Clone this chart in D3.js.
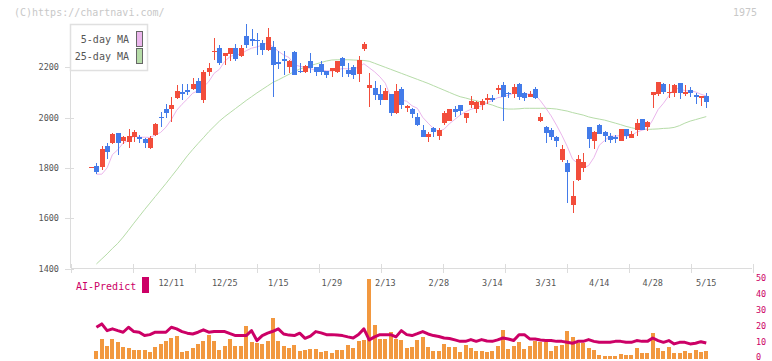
<!DOCTYPE html>
<html>
<head>
<meta charset="utf-8">
<script src="https://cdn.jsdelivr.net/npm/d3@7"></script>
<style>
body { margin: 0; background: #fff; }
svg { display: block; font-family: "DejaVu Sans Mono", "Liberation Mono", monospace; }
</style>
</head>
<body>
<svg width="772" height="361"></svg>
<script>
// daily prices, oldest first
var openPrice = [1803,1807,1805,1887,1898,1940,1905,1904,1924,1922,
  1914,1879,1932,2004,2034,2034,2079,2102,2110,2114,
  2147,2070,2181,2262,2277,2246,2253,2277,2244,2323,
  2313,2310,2297,2270,2281,2220,2233,2200,2261,2186,
  2180,2226,2201,2214,2184,2186,2180,2236,2189,2200,
  2172,2273,2119,2119,2094,2070,2094,2017,2114,2040,
  2034,2001,1951,1924,1957,1927,1980,1986,2034,2050,
  2000,2050,2034,2050,2070,2077,2110,2130,2099,2094,
  2132,2097,2083,2114,1986,1964,1951,1924,1831,1821,
  1652,1752,1798,1963,1908,1971,1944,1927,1923,1908,
  1955,1920,1951,1994,1964,2090,2095,2134,2098,2099,
  2138,2098,2110,2090,2079,2086];
var highPrice = [1805,1818,1886,1898,1940,1940,1925,1953,1951,1931,
  1918,1927,1980,2024,2054,2083,2130,2134,2134,2156,
  2156,2189,2217,2316,2290,2257,2277,2293,2290,2372,
  2351,2336,2310,2358,2303,2264,2265,2230,2264,2217,
  2210,2257,2201,2226,2184,2198,2226,2242,2219,2209,
  2246,2299,2176,2146,2130,2117,2094,2133,2123,2050,
  2039,2017,1971,1944,1964,1957,2026,2034,2047,2050,
  2017,2087,2066,2074,2094,2090,2130,2143,2103,2134,
  2136,2103,2106,2123,2017,1968,1957,1928,1891,1831,
  1748,1851,1858,1963,1948,1975,1948,1938,1931,1955,
  1955,1948,1994,1994,1986,2103,2142,2139,2134,2134,
  2138,2130,2123,2097,2086,2099];
var lowPrice = [1800,1775,1790,1835,1895,1851,1895,1878,1904,1900,
  1878,1874,1927,1964,1997,1984,2073,2070,2090,2110,
  2097,2059,2164,2230,2210,2210,2224,2226,2240,2277,
  2283,2250,2250,2264,2082,2194,2168,2177,2168,2177,
  2177,2177,2164,2171,2157,2163,2177,2163,2163,2153,
  2143,2265,2043,2070,2050,2070,2006,2014,2034,2021,
  2000,1968,1924,1902,1924,1911,1971,1986,2002,2010,
  1980,2037,2019,2030,2053,2061,2094,1986,2079,2079,
  2070,2066,2083,2074,1984,1900,1911,1884,1825,1662,
  1620,1748,1785,1880,1874,1936,1904,1900,1900,1908,
  1915,1920,1927,1951,1947,2039,2086,2095,2079,2083,
  2075,2086,2083,2054,2047,2039];
var closePrice = [1805,1785,1874,1864,1935,1900,1922,1927,1944,1916,
  1900,1919,1975,1997,2017,2050,2106,2095,2101,2134,
  2099,2182,2197,2266,2217,2257,2277,2234,2277,2287,
  2303,2303,2270,2320,2210,2217,2226,2224,2171,2180,
  2204,2197,2181,2181,2168,2197,2225,2206,2173,2169,
  2229,2291,2130,2090,2070,2106,2020,2106,2050,2045,
  2014,1971,1924,1935,1942,1951,2017,2034,2023,2026,
  2017,2066,2061,2066,2079,2070,2117,2083,2094,2123,
  2083,2077,2094,2077,2004,1940,1921,1908,1875,1785,
  1688,1835,1822,1915,1944,1936,1927,1911,1914,1955,
  1928,1935,1980,1951,1984,2103,2142,2103,2102,2130,
  2099,2101,2099,2081,2086,2063];

// moving averages as drawn on the chart
var ma5 = [null,1775,1775,1800,1853,1872,1899,1910,1926,1922,
  1922,1921,1931,1941,1962,1992,2029,2053,2074,2097,
  2107,2122,2143,2176,2192,2224,2243,2250,2252,2266,
  2276,2281,2288,2297,2281,2264,2249,2239,2210,2204,
  2201,2195,2187,2189,2186,2185,2190,2195,2194,2194,
  2200,2214,2198,2182,2162,2137,2083,2078,2070,2065,
  2047,2037,2001,1978,1957,1945,1954,1976,1993,2010,
  2023,2033,2039,2047,2058,2068,2079,2083,2089,2097,
  2100,2092,2094,2091,2067,2038,2007,1970,1930,1886,
  1835,1818,1801,1809,1841,1890,1909,1927,1926,1929,
  1927,1929,1942,1950,1956,1991,2032,2057,2087,2116,
  2115,2107,2106,2102,2093,2086];
var ma25 = [null,1418,1438,1458,1480,1500,1525,1552,1580,1607,
  1634,1660,1686,1712,1738,1765,1792,1820,1848,1873,
  1897,1920,1944,1965,1986,2004,2020,2036,2052,2068,
  2083,2098,2112,2126,2140,2150,2161,2172,2183,2193,
  2200,2207,2213,2219,2225,2229,2230,2230,2230,2229,
  2228,2227,2224,2216,2208,2200,2192,2184,2176,2168,
  2160,2152,2144,2136,2127,2118,2109,2100,2091,2083,
  2078,2072,2067,2062,2056,2050,2042,2036,2034,2034,
  2035,2037,2037,2037,2037,2037,2036,2034,2030,2026,
  2020,2015,2010,2003,1998,1994,1990,1984,1978,1972,
  1965,1960,1955,1953,1953,1954,1955,1957,1958,1961,
  1968,1978,1986,1992,1998,2004];

// lower panel
var volume = [null,4.8,12.4,8.0,12.4,10.5,7.4,6.8,5.5,5.5,
  5.5,4.2,7.4,9.3,11.1,13.0,14.3,4.2,4.8,6.8,
  9.3,11.1,14.9,11.1,5.5,8.0,12.4,8.0,8.0,20.0,
  10.5,9.9,9.3,11.1,25.0,11.1,8.0,6.8,8.6,4.8,
  5.5,6.1,6.1,4.2,4.8,3.6,5.5,5.5,8.6,6.8,
  11.1,11.8,49.6,20.6,12.4,12.4,16.8,12.4,11.8,6.8,
  7.4,11.8,13.7,7.4,4.8,4.8,9.3,7.4,7.4,4.2,
  8.6,6.8,4.8,4.8,4.2,4.8,8.0,18.1,6.1,8.0,
  10.5,6.1,8.0,11.1,10.5,10.5,4.8,8.0,8.6,17.4,
  13.7,9.9,9.9,6.8,5.5,2.3,1.8,1.8,1.8,3.0,
  2.3,2.3,6.8,3.6,3.6,16.2,6.8,4.8,7.4,3.6,
  3.6,4.8,3.6,5.5,4.2,4.8];
var aiPredict = [null,19.5,21.6,17.4,18.5,17.4,16.4,19.5,16.8,16.4,
  14.3,14.9,16.4,16.4,16.4,19.5,18.5,16.8,15.8,15.3,
  16.4,17.9,16.4,16.8,16.8,16.8,15.5,14.3,14.3,14.3,
  17.4,11.2,14.3,15.8,17.0,18.5,15.3,14.6,14.3,15.8,
  12.6,14.0,16.8,16.0,14.9,14.9,14.6,14.3,13.5,12.8,
  15.0,18.5,11.6,13.5,14.9,14.9,14.9,13.5,17.4,14.9,
  14.3,15.5,16.8,15.3,14.3,13.7,12.8,12.5,11.6,10.7,
  10.7,11.8,10.7,11.8,10.9,10.7,11.6,12.8,12.2,11.2,
  14.9,14.9,12.2,12.2,11.6,11.2,11.2,10.7,10.7,10.1,
  9.5,10.7,10.7,11.8,10.7,10.1,10.1,10.1,10.7,10.7,
  10.1,10.1,11.2,10.7,10.7,12.8,11.2,10.1,11.2,9.1,
  10.1,10.1,9.1,9.5,10.5,9.7];

var dateLabels = ['12/11','12/25','1/15','1/29','2/13','2/28','3/14','3/31','4/14','4/28','5/15'];
var dateLabelDay = [15,25,35,45,55,65,75,85,95,105,115];
var priceTicks = [1400,1600,1800,2000,2200];
var lowerTicks = [0,10,20,30,40,50];
var legendNames = ['5-day MA','25-day MA'];

var upColor = '#f24d3b';
var downColor = '#437be9';
var ma5Color = '#ebb6ec';
var ma25Color = '#b6dca8';
var aiColor = '#cc0066';

var svg = d3.select('svg');
var x = d3.scaleLinear().domain([-3.75, 123.55]).range([71, 752]);
var y = d3.scaleLinear().domain([1400, 2200]).range([268.5, 67.3]);
var yLow = d3.scaleLinear().domain([0, 50]).range([358.5, 278.4]);
var gridX = d3.scaleLinear().domain([0, 11]).range([71, 753]);
var days = d3.range(closePrice.length);

function px(i){ return Math.round(x(i)); }

window.onload = function(){
  drawHeader();
  drawAxes();
  drawMovingAverages();
  drawCandles();
  drawLegend();
  drawLowerPanel();
}

function drawHeader(){
  svg.append('text').attr('x', 14).attr('y', 16)
    .attr('font-size', 10).attr('fill', '#c8c8c8')
    .text('(C)https://chartnavi.com/');
  svg.append('text').attr('x', 757).attr('y', 16)
    .attr('text-anchor', 'end').attr('font-size', 10).attr('fill', '#c8c8c8')
    .text('1975');
}

function drawAxes(){
  var g = svg.append('g').attr('stroke', '#dcdcdc').attr('shape-rendering', 'crispEdges');
  g.append('line').attr('x1', 70.5).attr('x2', 70.5).attr('y1', 24).attr('y2', 268);
  g.append('line').attr('x1', 71).attr('x2', 752).attr('y1', 268.5).attr('y2', 268.5);
  g.selectAll('.xtick').data(d3.range(12))
    .enter().append('line')
    .attr('x1', function(d){ return Math.round(gridX(d)) + 0.5; })
    .attr('x2', function(d){ return Math.round(gridX(d)) + 0.5; })
    .attr('y1', 264).attr('y2', 273);
  g.selectAll('.ytick').data(priceTicks)
    .enter().append('line')
    .attr('x1', 65).attr('x2', 74)
    .attr('y1', function(d){ return Math.round(y(d)) + 0.5; })
    .attr('y2', function(d){ return Math.round(y(d)) + 0.5; });

  svg.selectAll('.ylabel').data(priceTicks)
    .enter().append('text')
    .attr('x', 59).attr('y', function(d){ return y(d) + 3; })
    .attr('text-anchor', 'end').attr('font-size', 8.5).attr('fill', '#555')
    .text(function(d){ return d; });

  svg.selectAll('.xlabel').data(dateLabels)
    .enter().append('text')
    .attr('x', function(d, i){ return x(dateLabelDay[i]); })
    .attr('y', 285.5)
    .attr('text-anchor', 'middle').attr('font-size', 8.5).attr('fill', '#555')
    .text(function(d){ return d; });
}

function drawMovingAverages(){
  var line = d3.line()
    .defined(function(d){ return d != null; })
    .x(function(d, i){ return x(i); })
    .y(function(d){ return y(d); });
  svg.append('path').attr('d', line(ma25))
    .attr('fill', 'none').attr('stroke', ma25Color).attr('stroke-width', 1);
  svg.append('path').attr('d', line(ma5))
    .attr('fill', 'none').attr('stroke', ma5Color).attr('stroke-width', 1);
}

function drawCandles(){
  var candle = svg.append('g').attr('shape-rendering', 'crispEdges')
    .selectAll('g').data(days)
    .enter().append('g')
    .attr('fill', function(i){ return closePrice[i] >= openPrice[i] ? upColor : downColor; })
    .attr('stroke', function(i){ return closePrice[i] >= openPrice[i] ? upColor : downColor; });
  candle.append('line')
    .attr('x1', function(i){ return px(i) + 0.5; })
    .attr('x2', function(i){ return px(i) + 0.5; })
    .attr('y1', function(i){ return y(highPrice[i]); })
    .attr('y2', function(i){ return y(lowPrice[i]); });
  candle.append('rect')
    .attr('stroke', 'none')
    .attr('x', function(i){ return px(i) - 2; })
    .attr('width', 5)
    .attr('y', function(i){ return y(Math.max(openPrice[i], closePrice[i])); })
    .attr('height', function(i){
      return Math.max(1.5, Math.abs(y(openPrice[i]) - y(closePrice[i])));
    });
}

function drawLegend(){
  var g = svg.append('g');
  g.append('rect').attr('x', 70.5).attr('y', 24.5).attr('width', 77).attr('height', 46)
    .attr('fill', '#fff').attr('stroke', '#e0e0e0').attr('stroke-width', 1.5);
  var row = g.selectAll('.item').data(legendNames)
    .enter().append('g')
    .attr('transform', function(d, i){ return 'translate(0,' + (i * 17) + ')'; });
  row.append('text').attr('x', 129).attr('y', 43)
    .attr('text-anchor', 'end').attr('font-size', 10).attr('fill', '#555')
    .text(function(d){ return d; });
  row.append('rect').attr('x', 136.5).attr('y', 31.5).attr('width', 6).attr('height', 15)
    .attr('fill', function(d, i){ return i ? ma25Color : ma5Color; })
    .attr('stroke', '#666');
}

function drawLowerPanel(){
  svg.append('g').attr('fill', '#f2983f').attr('shape-rendering', 'crispEdges')
    .selectAll('rect').data(days.filter(function(i){ return volume[i] != null; }))
    .enter().append('rect')
    .attr('x', function(i){ return px(i) - 2; })
    .attr('width', 4)
    .attr('y', function(i){ return yLow(volume[i]); })
    .attr('height', function(i){ return yLow(0) - yLow(volume[i]); });

  var line = d3.line()
    .defined(function(d){ return d != null; })
    .x(function(d, i){ return x(i); })
    .y(function(d){ return yLow(d); });
  svg.append('path').attr('d', line(aiPredict))
    .attr('fill', 'none').attr('stroke', aiColor)
    .attr('stroke-width', 3).attr('stroke-linejoin', 'round');

  svg.append('text').attr('x', 76).attr('y', 289.5)
    .attr('font-size', 10).attr('fill', aiColor).text('AI-Predict');
  svg.append('rect').attr('x', 142).attr('y', 277).attr('width', 7).attr('height', 16)
    .attr('fill', aiColor);

  // the bottom label sits on the window edge, keep it inside
  svg.selectAll('.rlabel').data(lowerTicks)
    .enter().append('text')
    .attr('x', 756).attr('y', function(d){ return Math.min(yLow(d) + 3, 360); })
    .attr('font-size', 8.5).attr('fill', aiColor)
    .text(function(d){ return d; });
}
</script>
</body>
</html>
